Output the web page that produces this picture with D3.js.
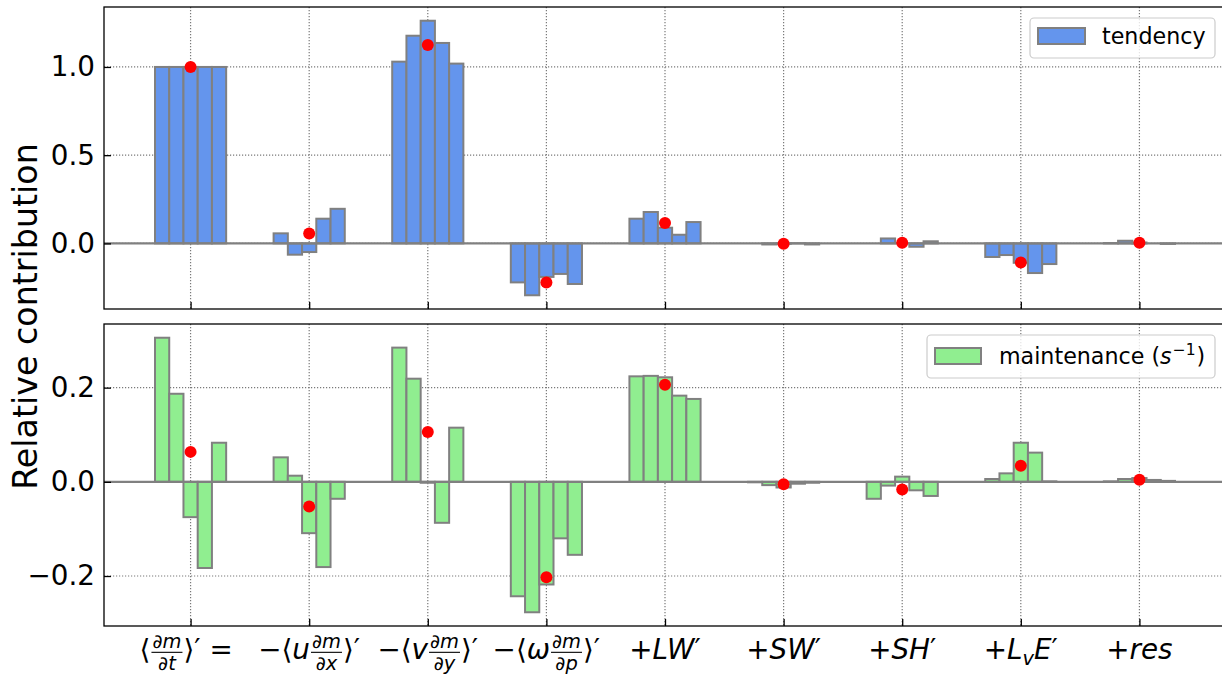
<!DOCTYPE html>
<html><head><meta charset="utf-8">
<script src="https://cdn.jsdelivr.net/npm/d3@7"></script>
<style>
body{margin:0;background:#fff;}
svg{display:block;font-family:"DejaVu Sans",sans-serif;}
</style></head><body>
<svg id="chart" width="1222" height="676"></svg>
<script>
// ---------------- data ----------------
const categories = ["tend", "hadv_x", "hadv_y", "vadv", "LW", "SW", "SH", "LvE", "res"];
const seriesNames = ["tendency", "maintenance"];
// five members per term (relative contribution)
const tendencyValues = [
  [1.000, 1.000, 1.000, 1.000, 1.000],
  [0.057, -0.064, -0.049, 0.140, 0.196],
  [1.030, 1.177, 1.262, 1.136, 1.019],
  [-0.221, -0.294, -0.190, -0.173, -0.230],
  [0.140, 0.178, 0.089, 0.049, 0.121],
  [0.000, -0.006, -0.002, 0.001, -0.006],
  [0.000, 0.028, 0.000, -0.019, 0.012],
  [-0.077, -0.066, -0.110, -0.168, -0.117],
  [0.002, 0.015, 0.005, 0.000, -0.003]
];
const maintenanceValues = [
  [0.306, 0.187, -0.075, -0.183, 0.083],
  [0.052, 0.013, -0.109, -0.181, -0.036],
  [0.285, 0.219, -0.002, -0.087, 0.115],
  [-0.243, -0.277, -0.218, -0.120, -0.155],
  [0.224, 0.225, 0.222, 0.183, 0.176],
  [-0.001, -0.007, -0.012, -0.004, -0.002],
  [-0.036, -0.008, 0.011, -0.018, -0.030],
  [0.006, 0.018, 0.083, 0.062, 0.001],
  [0.001, 0.006, 0.008, 0.004, 0.002]
];
const topTicks = [0.0, 0.5, 1.0];
const bottomTicks = [-0.2, 0.0, 0.2];
const yLabel = "Relative contribution";
// x tick labels as math tokens
const I = s => ({s: s, it: true});
const N = s => ({s: s, it: false});
const xTickLabels = [
  [{run: [N("⟨")]}, {frac: {num: [N("∂"), I("m")], den: [N("∂"), I("t")]}}, {run: [N("⟩′ = ")]}],
  [{run: [N("−⟨"), I("u")]}, {frac: {num: [N("∂"), I("m")], den: [N("∂"), I("x")]}}, {run: [N("⟩′")]}],
  [{run: [N("−⟨"), I("v")]}, {frac: {num: [N("∂"), I("m")], den: [N("∂"), I("y")]}}, {run: [N("⟩′")]}],
  [{run: [N("−⟨"), I("ω")]}, {frac: {num: [N("∂"), I("m")], den: [N("∂"), I("p")]}}, {run: [N("⟩′")]}],
  [{run: [N("+"), I("LW"), N("′")]}],
  [{run: [N("+"), I("SW"), N("′")]}],
  [{run: [N("+"), I("SH"), N("′")]}],
  [{run: [N("+"), I("L")]}, {sub: [I("v")]}, {run: [I("E"), N("′")]}],
  [{run: [N("+"), I("res")]}]
];

// ---------------- layout ----------------
const svg = d3.select("#chart");
const plotLeft = 104, plotRight = 1226;
const panels = [
  {values: tendencyValues, y0: 7, y1: 309, ticks: topTicks, fill: "#6495ED", legend: "tendency"},
  {values: maintenanceValues, y0: 324, y1: 626, ticks: bottomTicks, fill: "#90EE90", legend: "maintenance"}
];
const nMembers = 5, barW = 0.12;
const span = (categories.length - 1) + nMembers * barW;
const xm = span * 0.05;
const x = d3.scaleLinear()
  .domain([-nMembers * barW / 2 - xm, categories.length - 1 + nMembers * barW / 2 + xm])
  .range([plotLeft, plotRight]);

const fmt = v => (v < 0 ? "−" : "") + Math.abs(v).toFixed(1);
const gridColor = "#7a7a7a";

panels.forEach((p, pi) => {
  const all = p.values.flat();
  const lo = Math.min(0, d3.min(all)), hi = Math.max(0, d3.max(all));
  const pad = (hi - lo) * 0.05;
  const y = d3.scaleLinear().domain([lo - pad, hi + pad]).range([p.y1, p.y0]);
  const g = svg.append("g");
  const clipId = "clip" + pi;
  svg.append("clipPath").attr("id", clipId).append("rect")
    .attr("x", plotLeft).attr("y", p.y0).attr("width", plotRight - plotLeft).attr("height", p.y1 - p.y0);
  const inner = g.append("g").attr("clip-path", `url(#${clipId})`);

  // grid
  inner.selectAll(".gx").data(categories).join("line")
    .attr("x1", (d, i) => x(i)).attr("x2", (d, i) => x(i))
    .attr("y1", p.y0).attr("y2", p.y1)
    .attr("stroke", gridColor).attr("stroke-width", 1.2).attr("stroke-dasharray", "1.2,1.8");
  inner.selectAll(".gy").data(p.ticks).join("line")
    .attr("x1", plotLeft).attr("x2", plotRight)
    .attr("y1", d => y(d)).attr("y2", d => y(d))
    .attr("stroke", gridColor).attr("stroke-width", 1.2).attr("stroke-dasharray", "1.2,1.8");

  // bars
  const barData = [];
  p.values.forEach((arr, i) => arr.forEach((v, j) => barData.push({i, j, v})));
  inner.selectAll(".bar").data(barData).join("rect")
    .attr("x", d => x(d.i + (d.j - nMembers / 2) * barW))
    .attr("width", d => x(d.i + (d.j - nMembers / 2 + 1) * barW) - x(d.i + (d.j - nMembers / 2) * barW))
    .attr("y", d => y(Math.max(0, d.v)))
    .attr("height", d => Math.abs(y(d.v) - y(0)))
    .attr("fill", p.fill).attr("stroke", "#808080").attr("stroke-width", 2);

  // zero line
  inner.append("line").attr("x1", plotLeft).attr("x2", plotRight)
    .attr("y1", y(0)).attr("y2", y(0)).attr("stroke", "#808080").attr("stroke-width", 2.2);

  // mean dots
  inner.selectAll(".dot").data(p.values).join("circle")
    .attr("cx", (d, i) => x(i)).attr("cy", d => y(d3.mean(d))).attr("r", 6).attr("fill", "#ff0000");

  // axes
  const yAx = g.append("g").attr("transform", `translate(${plotLeft},0)`)
    .call(d3.axisLeft(y).tickValues(p.ticks).tickSizeInner(-7).tickSizeOuter(0).tickPadding(9).tickFormat(fmt));
  yAx.select(".domain").remove();
  yAx.selectAll(".tick line").attr("stroke", "#000").attr("stroke-width", 1.3);
  yAx.selectAll(".tick text").attr("font-size", 27.8).attr("font-family", "DejaVu Sans").attr("fill", "#000");

  const xAx = g.append("g").attr("transform", `translate(0,${p.y1})`)
    .call(d3.axisBottom(x).tickValues(d3.range(categories.length)).tickSizeInner(-7).tickSizeOuter(0).tickFormat(""));
  xAx.select(".domain").remove();
  xAx.selectAll(".tick line").attr("stroke", "#000").attr("stroke-width", 1.3);

  // spines
  g.append("rect").attr("x", plotLeft).attr("y", p.y0).attr("width", plotRight - plotLeft).attr("height", p.y1 - p.y0)
    .attr("fill", "none").attr("stroke", "#000").attr("stroke-width", 1.3);

  // legend
  const lg = g.append("g");
  if (pi === 0) {
    lg.append("rect").attr("x", 1030).attr("y", 18).attr("width", 185).attr("height", 40).attr("rx", 4)
      .attr("fill", "#fff").attr("fill-opacity", 0.8).attr("stroke", "#cccccc").attr("stroke-width", 1.2);
    lg.append("rect").attr("x", 1038).attr("y", 28).attr("width", 47).attr("height", 16)
      .attr("fill", p.fill).attr("stroke", "#808080").attr("stroke-width", 2);
    lg.append("text").attr("x", 1102).attr("y", 44).attr("font-size", 22.2).text(seriesNames[0]);
  } else {
    lg.append("rect").attr("x", 927).attr("y", 335).attr("width", 288).attr("height", 43).attr("rx", 4)
      .attr("fill", "#fff").attr("fill-opacity", 0.8).attr("stroke", "#cccccc").attr("stroke-width", 1.2);
    lg.append("rect").attr("x", 935).attr("y", 348).attr("width", 46).attr("height", 16)
      .attr("fill", p.fill).attr("stroke", "#808080").attr("stroke-width", 2);
    const t = lg.append("text").attr("x", 999).attr("y", 364).attr("font-size", 22.2);
    t.append("tspan").text(seriesNames[1] + " (");
    t.append("tspan").attr("font-style", "italic").text("s");
    t.append("tspan").attr("font-size", 15.5).attr("dy", -9).attr("dx", 1).text("−1");
    t.append("tspan").attr("dy", 9).attr("dx", 1).text(")");
  }
});

// y label
svg.append("text").attr("transform", "translate(37,316.5) rotate(-90)")
  .attr("text-anchor", "middle").attr("font-size", 33.3).text(yLabel);

// x tick labels (math-like)
function runText(parent, run, fs, yy, xx, anchor) {
  const t = parent.append("text").attr("font-size", fs).attr("y", yy).attr("x", xx)
    .attr("text-anchor", anchor || "start").attr("xml:space", "preserve").style("white-space", "pre");
  run.forEach(r => t.append("tspan").attr("font-style", r.it ? "italic" : "normal").text(r.s));
  return t;
}
function drawMath(tokens, cx, base, size) {
  const grp = svg.append("g");
  let cur = 0;
  tokens.forEach(tok => {
    if (tok.run) {
      const t = runText(grp, tok.run, size, base, cur);
      cur += t.node().getComputedTextLength();
    } else if (tok.frac) {
      const fs = size * 0.7;
      const n = runText(grp, tok.frac.num, fs, base - size * 0.39, 0, "middle");
      const d = runText(grp, tok.frac.den, fs, base + size * 0.4, 0, "middle");
      const w = Math.max(n.node().getComputedTextLength(), d.node().getComputedTextLength()) + 4;
      n.attr("x", cur + w / 2); d.attr("x", cur + w / 2);
      grp.append("line").attr("x1", cur + 1).attr("x2", cur + w - 1)
        .attr("y1", base - size * 0.24).attr("y2", base - size * 0.24)
        .attr("stroke", "#000").attr("stroke-width", 1.1);
      cur += w;
    } else if (tok.sub) {
      const t = runText(grp, tok.sub, size * 0.7, base + size * 0.22, cur);
      cur += t.node().getComputedTextLength();
    }
  });
  grp.attr("transform", `translate(${cx - cur / 2},0)`);
}
xTickLabels.forEach((tk, i) => drawMath(tk, x(i), 659, 27.8));
</script>
</body></html>
